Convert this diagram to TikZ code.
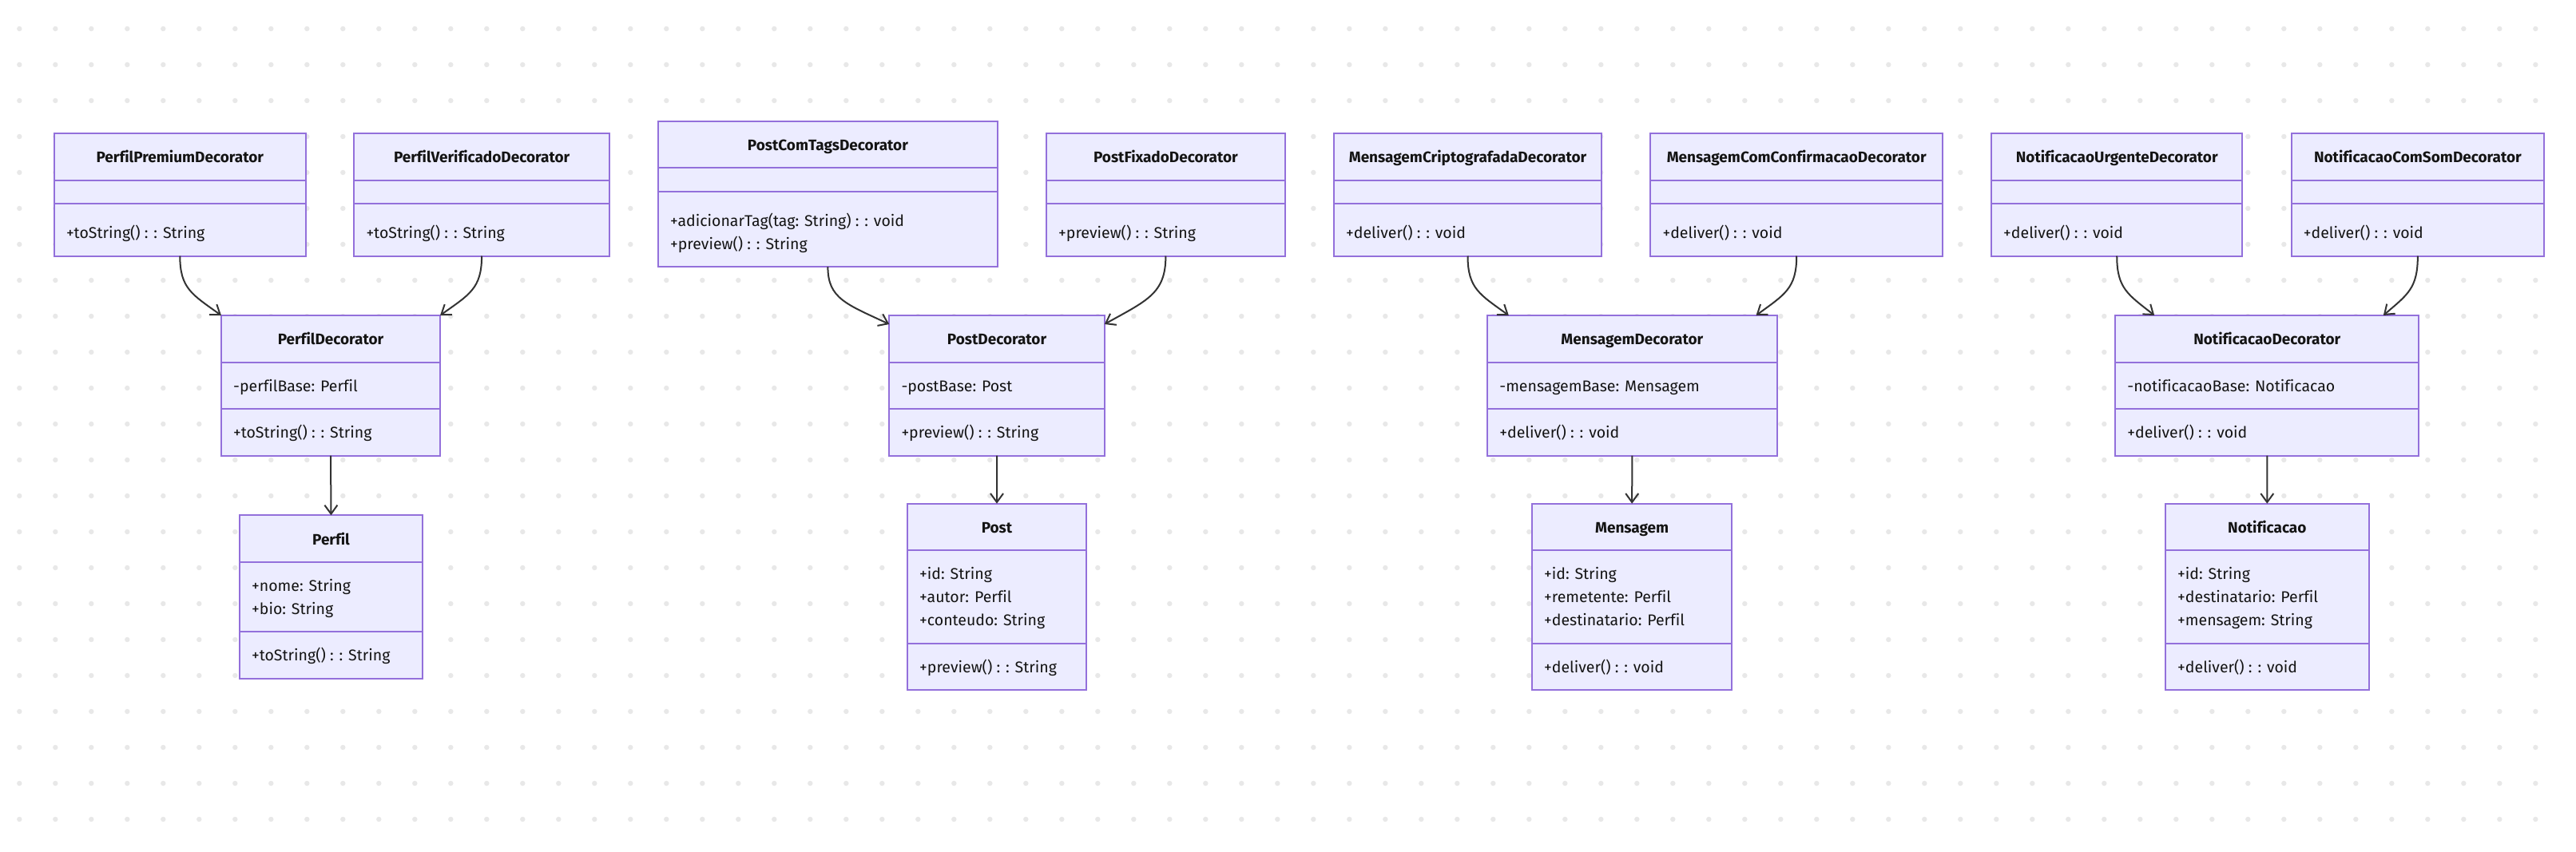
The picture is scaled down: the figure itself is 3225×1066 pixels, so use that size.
\documentclass[tikz,border=0pt]{standalone}
\usepackage{fontspec}
\setmainfont[Ligatures=NoCommon]{Fira Sans}
\usetikzlibrary{arrows.meta,calc}
\definecolor{clsfill}{HTML}{ECECFF}
\definecolor{clsdraw}{HTML}{9370DB}
\definecolor{arrc}{HTML}{333333}
\definecolor{dotc}{HTML}{E8E8E8}
\definecolor{txtc}{HTML}{141414}
\newcommand\umlcls[6]{%
  \pgfmathsetmacro\umlDA{58.5}%
  \pgfmathsetmacro\umlDB{58.5+29.5+29*#5}%
  \pgfmathsetmacro\umlHH{\umlDB+29.5+29*#6+(#5==0)*7}%
  \node[cls,minimum width=#4pt,minimum height=\umlHH pt,anchor=north west] (#1) at (#2,#3) {};
  \draw[clsline] ($(#1.north west)+(0,\umlDA)$) -- ($(#1.north east)+(0,\umlDA)$);
  \draw[clsline] ($(#1.north west)+(0,\umlDB)$) -- ($(#1.north east)+(0,\umlDB)$);
}
\newcommand\umltitle[2]{\node[ttl] at ($(#1.north)+(0,36.8)$) {#2};}
\newcommand\umlattrs[2]{\foreach \t [count=\k from 0] in {#2} {\node[mem] at ($(#1.north west)+(15,{95+29*\k})$) {\t};}}
\newcommand\umlmeths[3]{%
  \pgfmathsetmacro\umlMY{58.5+29.5+29*#2+36.5+(#2==0)*7}%
  \foreach \t [count=\k from 0] in {#3} {\node[mem] at ($(#1.north west)+(15,{\umlMY+29*\k})$) {\t};}}
\newcommand\decoarrow[2]{\draw[arr] let \p1=#1, \p2=#2 in #1 .. controls (\x1,{\y1+0.55*(\y2-\y1)}) and ({\x2-0.7*(\x2-\x1)},{\y2-0.35*(\y2-\y1)}) .. #2;}
\begin{document}
\begin{tikzpicture}[x=1pt,y=-1pt,
  cls/.style={draw=clsdraw,fill=clsfill,line width=2pt,inner sep=0pt,outer sep=0pt},
  clsline/.style={draw=clsdraw,line width=2pt},
  ttl/.style={anchor=base,inner sep=0pt,text=txtc,font=\fontsize{19pt}{22pt}\selectfont\bfseries},
  mem/.style={anchor=base west,inner sep=0pt,text=txtc,font=\fontsize{19.5pt}{23pt}\selectfont},
  arr/.style={draw=arrc,line width=2pt,-{Straight Barb[length=11pt,width=16pt]}}]
\useasboundingbox (0,0) rectangle (3225,1066);
\fill[white] (0,0) rectangle (3225,1066);
\foreach \i in {0,...,70} {\foreach \j in {0,...,22} {\fill[dotc] ({24.3+45*\i},{36+45*\j}) circle (3.2pt);}}
% Perfil group
\umlcls{pp}{67.9}{167}{314.8}{0}{1}
\umltitle{pp}{PerfilPremiumDecorator}
\umlmeths{pp}{0}{{+toString() : : String}}
\umlcls{pv}{443.4}{167}{319.4}{0}{1}
\umltitle{pv}{PerfilVerificadoDecorator}
\umlmeths{pv}{0}{{+toString() : : String}}
\umlcls{pd}{277}{395}{274}{1}{1}
\umltitle{pd}{PerfilDecorator}
\umlattrs{pd}{{-perfilBase: Perfil}}
\umlmeths{pd}{1}{{+toString() : : String}}
\umlcls{pf}{300}{645.3}{229}{2}{1}
\umltitle{pf}{Perfil}
\umlattrs{pf}{{+nome: String},{+bio: String}}
\umlmeths{pf}{2}{{+toString() : : String}}
% Post group
\umlcls{pt}{823.9}{151.7}{425}{0}{2}
\umltitle{pt}{PostComTagsDecorator}
\umlmeths{pt}{0}{{+adicionarTag(tag: String) : : void},{+preview() : : String}}
\umlcls{px}{1310}{167}{298.8}{0}{1}
\umltitle{px}{PostFixadoDecorator}
\umlmeths{px}{0}{{+preview() : : String}}
\umlcls{qd}{1113.3}{395}{269.5}{1}{1}
\umltitle{qd}{PostDecorator}
\umlattrs{qd}{{-postBase: Post}}
\umlmeths{qd}{1}{{+preview() : : String}}
\umlcls{po}{1136}{630.7}{224}{3}{1}
\umltitle{po}{Post}
\umlattrs{po}{{+id: String},{+autor: Perfil},{+conteudo: String}}
\umlmeths{po}{3}{{+preview() : : String}}
% Mensagem group
\umlcls{mc}{1669.9}{167}{335.2}{0}{1}
\umltitle{mc}{MensagemCriptografadaDecorator}
\umlmeths{mc}{0}{{+deliver() : : void}}
\umlcls{mk}{2066.3}{167}{365.8}{0}{1}
\umltitle{mk}{MensagemComConfirmacaoDecorator}
\umlmeths{mk}{0}{{+deliver() : : void}}
\umlcls{md}{1862.2}{395}{362.3}{1}{1}
\umltitle{md}{MensagemDecorator}
\umlattrs{md}{{-mensagemBase: Mensagem}}
\umlmeths{md}{1}{{+deliver() : : void}}
\umlcls{mm}{1917.9}{630.7}{250.5}{3}{1}
\umltitle{mm}{Mensagem}
\umlattrs{mm}{{+id: String},{+remetente: Perfil},{+destinatario: Perfil}}
\umlmeths{mm}{3}{{+deliver() : : void}}
% Notificacao group
\umlcls{nu}{2493}{167}{314.4}{0}{1}
\umltitle{nu}{NotificacaoUrgenteDecorator}
\umlmeths{nu}{0}{{+deliver() : : void}}
\umlcls{ns}{2868.7}{167}{316.3}{0}{1}
\umltitle{ns}{NotificacaoComSomDecorator}
\umlmeths{ns}{0}{{+deliver() : : void}}
\umlcls{nd}{2648.2}{395}{380.1}{1}{1}
\umltitle{nd}{NotificacaoDecorator}
\umlattrs{nd}{{-notificacaoBase: Notificacao}}
\umlmeths{nd}{1}{{+deliver() : : void}}
\umlcls{nn}{2711}{630.7}{254.6}{3}{1}
\umltitle{nn}{Notificacao}
\umlattrs{nn}{{+id: String},{+destinatario: Perfil},{+mensagem: String}}
\umlmeths{nn}{3}{{+deliver() : : void}}
% connectors
\decoarrow{(pp.south)}{(pd.north west)}
\decoarrow{(pv.south)}{(pd.north east)}
\decoarrow{(pt.south)}{($(qd.north west)+(0,11)$)}
\decoarrow{(px.south)}{($(qd.north east)+(0,11)$)}
\decoarrow{(mc.south)}{($(md.north west)+(26.6,0)$)}
\decoarrow{(mk.south)}{($(md.north east)+(-26,0)$)}
\decoarrow{(nu.south)}{($(nd.north west)+(49,0)$)}
\decoarrow{(ns.south)}{($(nd.north east)+(-44.5,0)$)}
\draw[arr] (pd.south) -- (pf.north);
\draw[arr] (qd.south) -- (po.north);
\draw[arr] (md.south) -- (mm.north);
\draw[arr] (nd.south) -- (nn.north);
\end{tikzpicture}
\end{document}
